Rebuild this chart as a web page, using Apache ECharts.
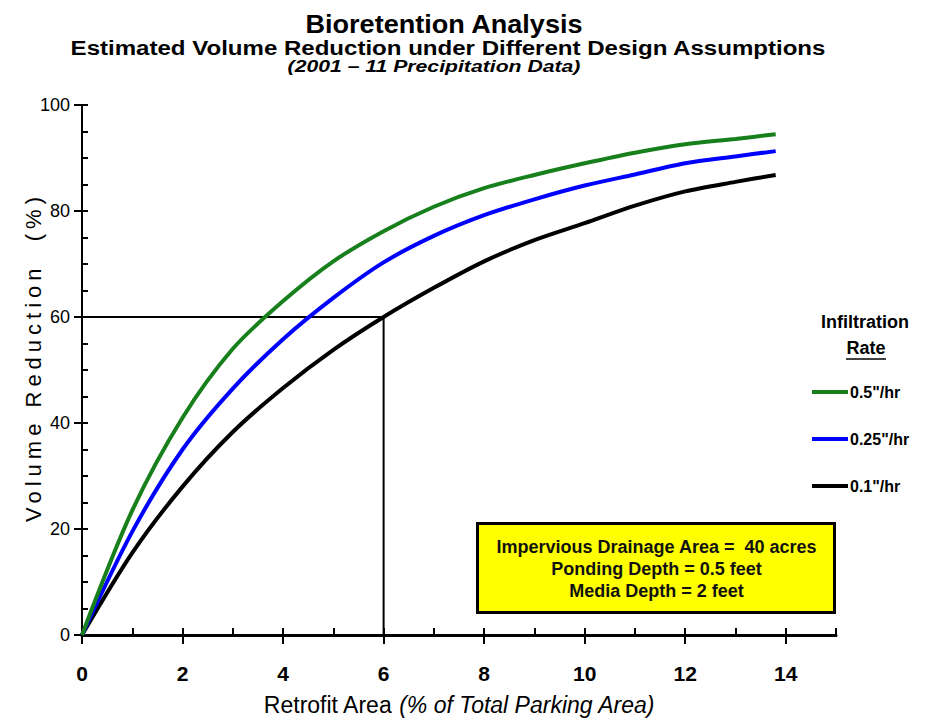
<!DOCTYPE html>
<html>
<head>
<meta charset="utf-8">
<script src="https://cdn.jsdelivr.net/npm/echarts@6/dist/echarts.min.js"></script>
<style>
  html, body { margin: 0; padding: 0; background: #fff; }
  #chart { width: 925px; height: 721px; }
</style>
</head>
<body>
<div id="chart"></div>
<script>
// Retrofit area (% of total parking area) at which each curve is sampled
const retrofitArea = [0, 1, 2, 3, 4, 5, 6, 7, 8, 9, 10, 11, 12, 13, 13.8];
// Volume reduction (%) for each infiltration rate
const rate05 = [0, 23.5, 41, 54, 63, 70.5, 76.2, 80.8, 84.3, 86.8, 89, 91, 92.6, 93.6, 94.5];
const rate025 = [0, 19.5, 35, 46.5, 55.8, 63.6, 70.3, 75.3, 79.2, 82.2, 84.8, 86.9, 89, 90.3, 91.3];
const rate01 = [0, 15.5, 28, 38.3, 46.6, 53.8, 60, 65.5, 70.5, 74.5, 77.7, 81, 83.7, 85.5, 86.8];
const seriesNames = ['0.5"/hr', '0.25"/hr', '0.1"/hr'];
const seriesColors = ['#17801c', '#0000ff', '#000000'];
// Guide: 60% reduction is reached at 6% retrofit area for 0.1"/hr
const guideX = [0, 6, 6];
const guideY = [60, 60, 0];
// Axis ticks
const xMajorTicks = [0, 2, 4, 6, 8, 10, 12, 14];
const xMinorTicks = [0, 1, 2, 3, 4, 5, 6, 7, 8, 9, 10, 11, 12, 13, 14, 15];
const yMajorTicks = [0, 20, 40, 60, 80, 100];
const yMinorTicks = [0, 5, 10, 15, 20, 25, 30, 35, 40, 45, 50, 55, 60, 65, 70, 75, 80, 85, 90, 95, 100];
const noteLines = ['Impervious Drainage Area =  40 acres', 'Ponding Depth = 0.5 feet', 'Media Depth = 2 feet'];
const yName = 'Volume Reduction  (%)';

const SANS = '"Liberation Sans", Arial, sans-serif';

const zip = (xs, ys) => xs.map((x, i) => [x, ys[i]]);

// Horizontal stretch so a heading spans a given width
const measureCtx = document.createElement('canvas').getContext('2d');
function stretchTo(text, font, width) {
  measureCtx.font = font;
  return width / measureCtx.measureText(text).width;
}
function heading(text, cx, cy, size, width, italic) {
  const font = (italic ? 'italic ' : '') + 'bold ' + size + 'px ' + SANS;
  return {
    type: 'text', x: cx, y: cy, scaleX: stretchTo(text, font, width),
    style: { text, fontFamily: SANS, fontWeight: 'bold', fontStyle: italic ? 'italic' : 'normal',
             fontSize: size, fill: '#000', align: 'center', verticalAlign: 'middle' }
  };
}

const chart = echarts.init(document.getElementById('chart'), null, { renderer: 'svg' });

const option = {
  animation: false,
  backgroundColor: '#ffffff',
  grid: { left: 82, right: 89, top: 105, bottom: 86 },
  legend: {
    orient: 'vertical',
    left: 812,
    top: 384,
    padding: 0,
    itemWidth: 36,
    itemHeight: 4,
    itemGap: 31,
    icon: 'rect',
    data: seriesNames,
    textStyle: { fontFamily: SANS, fontWeight: 'bold', fontSize: 16, color: '#000', padding: [0, 0, 0, -3] },
    selectedMode: false
  },
  xAxis: [
    {
      type: 'value', min: 0, max: 15, position: 'bottom',
      axisLine: { show: true, onZero: false, lineStyle: { color: '#000', width: 3 } },
      axisTick: { show: true, inside: true, length: 7, customValues: xMinorTicks, lineStyle: { color: '#000', width: 2 } },
      axisLabel: { show: false },
      splitLine: { show: false },
      name: '{a|Retrofit Area }{b|(% of Total Parking Area)}',
      nameLocation: 'middle',
      nameGap: 58,
      nameTextStyle: {
        rich: {
          a: { fontFamily: SANS, fontSize: 23, color: '#000' },
          b: { fontFamily: SANS, fontSize: 23, fontStyle: 'italic', color: '#000' }
        }
      }
    },
    {
      type: 'value', min: 0, max: 15, position: 'bottom',
      axisLine: { show: false, onZero: false },
      axisTick: { show: true, inside: false, length: 9, customValues: xMajorTicks, lineStyle: { color: '#000', width: 2 } },
      axisLabel: { show: true, customValues: xMajorTicks, margin: 28, fontFamily: SANS, fontWeight: 'bold', fontSize: 21, color: '#000' },
      splitLine: { show: false }
    }
  ],
  yAxis: [
    {
      type: 'value', min: 0, max: 100, position: 'left',
      axisLine: { show: true, onZero: false, lineStyle: { color: '#000', width: 2 } },
      axisTick: { show: true, inside: true, length: 6, customValues: yMinorTicks, lineStyle: { color: '#000', width: 2 } },
      axisLabel: { show: false },
      splitLine: { show: false }
    },
    {
      type: 'value', min: 0, max: 100, position: 'left',
      axisLine: { show: false, onZero: false },
      axisTick: { show: true, inside: false, length: 8, customValues: yMajorTicks, lineStyle: { color: '#000', width: 2 } },
      axisLabel: { show: true, customValues: yMajorTicks, margin: 12, fontFamily: SANS, fontSize: 18, color: '#000' },
      splitLine: { show: false }
    }
  ],
  series: [
    ...[rate05, rate025, rate01].map((vals, i) => ({
      name: seriesNames[i], type: 'line', data: zip(retrofitArea, vals), smooth: 0.3, showSymbol: false,
      color: seriesColors[i], lineStyle: { color: seriesColors[i], width: 4 }, z: 3 - i
    })),
    { name: 'guide', type: 'line', data: zip(guideX, guideY), showSymbol: false, silent: true,
      lineStyle: { color: '#000', width: 2 }, z: 0 }
  ],
  graphic: [
    heading('Bioretention Analysis', 444, 24, 25, 278, false),
    heading('Estimated Volume Reduction under Different Design Assumptions', 448, 48, 20, 756, false),
    heading('(2001 – 11 Precipitation Data)', 434, 66, 17, 293, true),
    { type: 'text', x: 33, y: 357, rotation: Math.PI / 2, id: 'yname',
      style: { text: yName, fontFamily: SANS, fontSize: 22, fill: '#000', align: 'center', verticalAlign: 'middle' } },
    { type: 'text', x: 865, y: 322,
      style: { text: 'Infiltration', fontFamily: SANS, fontWeight: 'bold', fontSize: 18, fill: '#000', align: 'center', verticalAlign: 'middle' } },
    { type: 'text', x: 866, y: 348,
      style: { text: 'Rate', fontFamily: SANS, fontWeight: 'bold', fontSize: 18, fill: '#000', align: 'center', verticalAlign: 'middle' } },
    { type: 'line', shape: { x1: 846, y1: 359, x2: 886, y2: 359 }, style: { stroke: '#000', lineWidth: 1.5 } },
    { type: 'group', left: 476, top: 522, children: [
      { type: 'rect', shape: { x: 0, y: 0, width: 357, height: 89 },
        style: { fill: '#ffff00', stroke: '#000', lineWidth: 3 } },
      ...noteLines.map((t, i) => ({
        type: 'text', x: 179, y: 23 + i * 22,
        style: { text: t, fontFamily: SANS, fontWeight: 'bold', fontSize: 18, fill: '#111',
                 align: 'center', verticalAlign: 'middle' }
      }))
    ] }
  ]
};

chart.setOption(option);

// Spread out the letters of the vertical axis title
function spaceYName() {
  document.querySelectorAll('#chart svg text').forEach(el => {
    if (el.textContent.indexOf('Volume Reduction') === 0) {
      el.style.letterSpacing = '5px';
      el.setAttribute('letter-spacing', '5');
    }
  });
}
chart.on('finished', spaceYName);
chart.getZr().refreshImmediately && chart.getZr().refreshImmediately();
spaceYName();
let passes = 0;
const timer = setInterval(() => { spaceYName(); if (++passes > 40) clearInterval(timer); }, 50);
</script>
</body>
</html>
